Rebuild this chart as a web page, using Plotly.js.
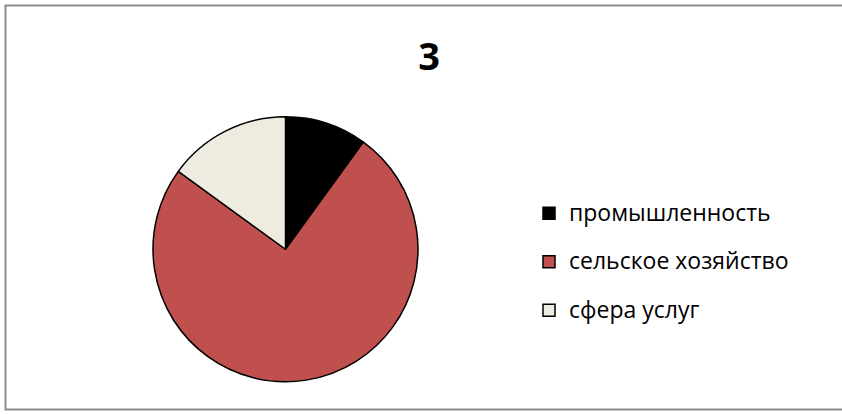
<!DOCTYPE html>
<html>
<head>
<meta charset="utf-8">
<script src="https://cdn.plot.ly/plotly-3.0.1.min.js"></script>
<style>html,body{margin:0;padding:0;background:#fff;}#chart{width:842px;height:414px;}</style>
</head>
<body>
<div id="chart"></div>
<script>
const titleText = "3";
const labels = ["промышленность", "сельское хозяйство", "сфера услуг"];
const values = [10, 75, 15];
const colors = ["#000000", "#C0504D", "#EEECE1"];

const legendFont = 35;
const labelFont = 23;

const trace = {
  type: "pie",
  labels: labels.map(l => '<span style="font-size:' + labelFont + 'px;baseline-shift:6px">' + l + '</span>'),
  values: values,
  sort: false,
  direction: "clockwise",
  rotation: 0,
  marker: {colors: colors, line: {color: "#000000", width: 1.5}},
  textinfo: "none",
  hoverinfo: "label+percent",
  domain: {x: [153/842, 418/842], y: [32/414, 297.5/414]}
};

const layout = {
  width: 842,
  height: 414,
  margin: {l: 0, r: 0, t: 0, b: 0},
  paper_bgcolor: "#ffffff",
  font: {family: "Open Sans, Noto Sans, sans-serif", color: "#000000"},
  title: {
    text: "<b>" + titleText + "</b>",
    font: {size: 38, family: "Open Sans, Noto Sans, sans-serif", color: "#000000"},
    x: 429/842, xanchor: "center",
    y: 1 - 57/414, yanchor: "middle", yref: "container"
  },
  showlegend: true,
  legend: {
    x: 529/842, xanchor: "left",
    y: 1 - 184/414, yanchor: "top",
    font: {size: legendFont, family: "Open Sans, Noto Sans, sans-serif", color: "#000000"},
    bgcolor: "rgba(0,0,0,0)",
    borderwidth: 0
  },
  shapes: [{
    type: "rect", xref: "paper", yref: "paper",
    x0: 5.5/842, x1: 1.02, y0: 1 - 409.5/414, y1: 1 - 5.5/414,
    line: {color: "#8c8c8c", width: 2}, fillcolor: "rgba(0,0,0,0)"
  }]
};

Plotly.newPlot("chart", [trace], layout, {displayModeBar: false, staticPlot: true});
</script>
</body>
</html>
